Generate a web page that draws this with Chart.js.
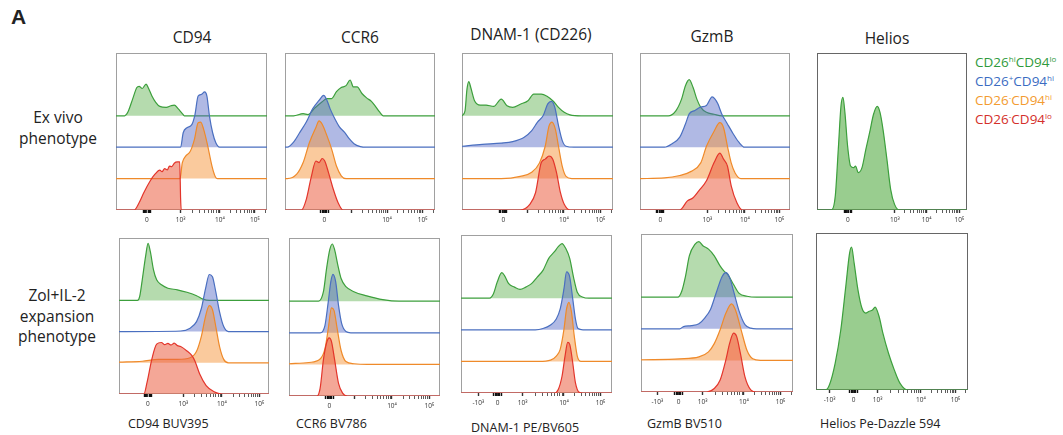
<!DOCTYPE html>
<html lang="en">
<head>
<meta charset="UTF-8">
<title>CD26/CD94 subsets - histograms</title>
<script src="https://cdn.jsdelivr.net/npm/chart.js"></script>
<style>
  body { margin: 0; background: #fff; width: 1063px; height: 435px; position: relative; overflow: hidden; font-family: "Open Sans", sans-serif; color: #222; }
  .txt { position: absolute; white-space: nowrap; }
  .panel { position: absolute; }
  .colTitle { font-size: 15.5px; transform: translate(-50%, -50%); }
  .rowTitle { font-size: 15.5px; line-height: 20.5px; text-align: center; transform: translateX(-50%); }
  .axisTitle { font-size: 12.5px; transform: translateY(-50%); }
  .legend div { font-size: 13.5px; line-height: 19px; }
  .legend sup { font-size: 8px; vertical-align: 5px; line-height: 0; }
</style>
</head>
<body>
<div class="txt" style="left:11px;top:5px;font:bold 21px 'Liberation Sans',Arial,sans-serif;">A</div>

<div class="txt colTitle" style="left:192px;top:37px;">CD94</div>
<div class="txt colTitle" style="left:360px;top:37px;">CCR6</div>
<div class="txt colTitle" style="left:531px;top:34px;">DNAM-1 (CD226)</div>
<div class="txt colTitle" style="left:712px;top:36px;">GzmB</div>
<div class="txt colTitle" style="left:887px;top:38px;">Helios</div>

<div class="txt rowTitle" style="left:58px;top:107px;">Ex vivo<br>phenotype</div>
<div class="txt rowTitle" style="left:57px;top:285px;">Zol+IL-2<br>expansion<br>phenotype</div>

<div class="txt axisTitle" style="left:128px;top:423px;">CD94 BUV395</div>
<div class="txt axisTitle" style="left:296px;top:423px;">CCR6 BV786</div>
<div class="txt axisTitle" style="left:471px;top:427px;">DNAM-1 PE/BV605</div>
<div class="txt axisTitle" style="left:647px;top:423px;">GzmB BV510</div>
<div class="txt axisTitle" style="left:820px;top:423px;">Helios Pe-Dazzle 594</div>

<div class="txt legend" style="left:975px;top:53px;">
  <div style="color:#2f9a3c">CD26<sup>hi</sup>CD94<sup>lo</sup></div>
  <div style="color:#3b6cc2">CD26<sup>+</sup>CD94<sup>hi</sup></div>
  <div style="color:#f39b30">CD26<sup>-</sup>CD94<sup>hi</sup></div>
  <div style="color:#d42f2a">CD26<sup>-</sup>CD94<sup>lo</sup></div>
</div>

<div id="panels"></div>

<script>
// populations, bottom to top in every stacked panel
const populations = ['CD26-CD94lo', 'CD26-CD94hi', 'CD26+CD94hi', 'CD26hiCD94lo'];
const lineColors = ['#e3352b', '#ef8a2a', '#4a6fc0', '#3c9f3c'];
const fillColors = ['rgba(235,95,65,0.55)', 'rgba(245,150,60,0.5)', 'rgba(80,100,195,0.45)', 'rgba(90,175,75,0.45)'];
const markers = ['CD94', 'CCR6', 'DNAM-1 (CD226)', 'GzmB', 'Helios'];

// x is position along the (biexponential) axis in % of panel width, y is density above the baseline

// --- Ex vivo ---
const exCD94Red = [[0,0],[12.1,0],[15.3,0.23],[18.4,0.55],[22.7,0.93],[25.8,1.14],[29.0,1.27],[30.5,1.22],[32.2,1.32],[34.0,1.28],[35.4,1.40],[37.0,1.38],[38.6,1.49],[40.7,1.53],[42.2,1.53],[42.8,0.34],[43.2,0],[100,0]];
const exCD94Orange = [[0,0],[42.4,0],[43.9,0.5],[46.0,0.71],[49.2,0.87],[51.9,1.24],[54.4,1.78],[56.1,1.80],[58.1,1.56],[60.8,1.03],[63.6,0.39],[65.7,0.07],[67.2,0],[100,0]];
const exCD94Blue = [[0,0],[42.8,0],[44.5,0.46],[47.0,0.62],[50.2,0.72],[52.3,1.04],[54.4,1.63],[56.6,1.68],[58.7,1.76],[60.2,1.63],[61.9,0.99],[64.0,0.46],[66.1,0.14],[68.6,0],[100,0]];
const exCD94Green = [[0,0],[5.7,0],[7.8,0.11],[11.0,0.53],[13.8,0.90],[15.3,0.94],[17.4,0.87],[19.9,1.01],[21.6,0.87],[23.7,0.64],[26.3,0.43],[29.0,0.30],[33.3,0.27],[36.4,0.32],[38.6,0.34],[41.1,0.23],[43.9,0.07],[45.3,0],[100,0]];

const exCCR6Red = [[0,0],[11.0,0],[14.2,0.34],[17.4,1.03],[20.6,1.56],[22.7,1.51],[24.8,1.64],[26.5,1.56],[29.0,1.19],[32.2,0.66],[35.4,0.23],[38.6,0],[100,0]];
const exCCR6Orange = [[0,0],[1.5,0],[7.8,0.14],[12.1,0.51],[16.3,1.15],[20.6,1.63],[22.7,1.84],[24.8,1.73],[28.0,1.36],[31.1,0.94],[34.3,0.40],[37.5,0.09],[40.7,0],[100,0]];
const exCCR6Blue = [[0,0],[1.5,0],[5.7,0.16],[10.0,0.48],[14.2,0.80],[18.4,1.22],[22.7,1.49],[25.8,1.65],[28.0,1.49],[30.1,1.22],[33.3,0.90],[36.4,0.64],[39.6,0.48],[42.8,0.27],[46.0,0.11],[50.2,0.02],[54.4,0],[100,0]];
const exCCR6Green = [[0,0],[5.7,0],[12.1,0.07],[15.3,0.04],[19.5,0.23],[24.8,0.45],[28.0,0.55],[31.1,0.55],[34.3,0.77],[37.5,0.90],[40.7,0.96],[43.4,1.14],[45.6,0.92],[48.1,0.92],[51.3,0.71],[54.4,0.57],[57.6,0.46],[59.7,0.34],[62.9,0.13],[65.5,0],[100,0]];

const exDNAMRed = [[0,0],[38.6,0],[44.9,0.18],[48.7,0.55],[52.5,1.51],[55.1,1.62],[57.6,1.72],[60.1,1.62],[62.6,1.19],[65.2,0.55],[67.7,0.18],[71.5,0],[100,0]];
const exDNAMOrange = [[0,0],[26.0,0],[38.6,0.07],[46.2,0.20],[51.3,0.50],[55.1,1.03],[57.6,1.67],[59.6,1.80],[61.9,1.56],[63.9,1.03],[66.4,0.39],[68.9,0.07],[72.7,0],[100,0]];
const exDNAMBlue = [[0,0.03],[13.4,0.09],[26.0,0.13],[33.6,0.18],[41.2,0.32],[46.2,0.53],[50.0,0.80],[53.8,1.01],[56.8,1.38],[59.3,1.46],[61.4,1.28],[63.9,0.69],[66.4,0.21],[68.9,0.03],[74.0,0],[100,0]];
const exDNAMGreen = [[0,0],[2.0,0.16],[3.3,0.85],[4.5,1.09],[5.8,0.90],[8.3,0.48],[12.1,0.34],[15.9,0.34],[21.0,0.30],[26.0,0.53],[29.8,0.32],[33.6,0.27],[38.6,0.37],[43.7,0.48],[47.5,0.69],[52.5,0.69],[56.3,0.62],[60.1,0.48],[63.9,0.27],[67.7,0.11],[71.5,0.03],[79.0,0],[100,0]];

const exGzmBRed = [[0,0],[26.5,0],[31.6,0.29],[35.4,0.39],[39.2,0.61],[44.3,0.93],[49.4,1.51],[53.2,1.81],[55.7,1.62],[58.3,1.40],[60.8,0.77],[64.6,0.23],[68.4,0],[100,0]];
const exGzmBOrange = [[0,0],[16.3,0.02],[26.5,0.10],[34.1,0.23],[40.5,0.50],[44.3,1.03],[49.4,1.51],[53.2,1.78],[55.7,1.62],[58.3,1.03],[60.8,0.50],[63.4,0.18],[67.2,0],[100,0]];
const exGzmBBlue = [[0,0],[16.3,0],[21.4,0.11],[26.5,0.32],[30.3,0.74],[32.8,1.06],[36.6,1.17],[40.5,1.28],[44.3,1.33],[48.1,1.60],[49.9,1.54],[51.9,1.38],[54.5,1.06],[58.3,0.74],[62.1,0.43],[65.9,0.16],[69.7,0],[100,0]];
const exGzmBGreen = [[0,0],[18.8,0],[23.9,0.16],[27.7,0.53],[30.3,0.96],[32.8,1.15],[35.4,0.90],[37.9,0.53],[40.5,0.27],[44.3,0.11],[49.4,0.05],[54.5,0],[100,0]];

const exHelios = [[0,0],[9.7,0],[12.2,0.45],[14.2,1.94],[16.0,3.32],[17.3,3.59],[18.6,3.11],[20.4,2.04],[22.4,1.40],[24.4,1.35],[25.7,1.40],[27.5,1.19],[30.0,1.35],[32.6,1.94],[35.1,2.47],[37.7,3.05],[40.2,3.30],[42.0,3.11],[44.0,2.57],[46.6,1.62],[49.1,0.66],[51.7,0.18],[55.0,0],[100,0]];

// --- Zol+IL-2 expansion ---
const zlCD94Red = [[0,0],[16.6,0],[18.7,0.37],[21.9,1.12],[25.1,1.60],[28.3,1.65],[30.5,1.58],[32.6,1.62],[34.7,1.57],[36.8,1.63],[39.0,1.55],[41.1,1.52],[45.3,1.38],[48.5,1.24],[50.6,1.06],[53.8,0.64],[58.1,0.27],[63.4,0.07],[68.7,0],[100,0]];
const zlCD94Orange = [[0,0.02],[15.5,0.05],[26.2,0.11],[38.9,0.11],[47.4,0.16],[51.7,0.37],[54.9,0.85],[57.7,1.49],[60.2,1.83],[62.3,1.70],[64.5,1.17],[67.0,0.53],[69.8,0.11],[73.0,0],[100,0]];
const zlCD94Blue = [[0,0],[41.1,0.02],[47.4,0.11],[51.7,0.32],[54.9,0.74],[57.7,1.38],[60.2,1.83],[62.3,1.76],[64.5,1.28],[67.0,0.64],[69.8,0.16],[73.0,0],[100,0]];
const zlCD94Green = [[0,0],[12.3,0],[13.8,0.13],[15.5,0.66],[17.7,1.40],[19.4,1.83],[20.9,1.56],[23.0,0.98],[25.1,0.66],[28.3,0.50],[32.6,0.39],[38.9,0.34],[45.3,0.26],[51.7,0.15],[56.0,0.04],[60.2,0],[100,0]];

const zlCCR6Red = [[0,0],[18.5,0],[20.6,0.24],[22.8,1.15],[24.9,1.68],[26.6,1.84],[28.1,1.73],[30.2,1.15],[32.8,0.40],[35.5,0.09],[38.7,0],[100,0]];
const zlCCR6Orange = [[0,0.02],[13.2,0.06],[20.6,0.17],[23.8,0.49],[26.0,1.13],[28.1,1.79],[29.8,1.71],[31.9,1.13],[34.5,0.44],[37.7,0.09],[43.0,0.02],[51.5,0],[100,0]];
const zlCCR6Blue = [[0,0],[20.6,0],[23.8,0.23],[26.0,0.98],[27.7,1.62],[29.1,1.85],[30.9,1.62],[32.8,0.87],[34.9,0.29],[37.7,0.04],[40.9,0],[100,0]];
const zlCCR6Green = [[0,0],[19.6,0],[22.8,0.30],[24.9,1.04],[27.0,1.63],[28.7,1.81],[30.2,1.63],[32.3,1.15],[34.5,0.72],[37.7,0.46],[43.0,0.30],[51.5,0.17],[62.1,0.05],[72.8,0],[100,0]];

const zlDNAMRed = [[0,0],[61.9,0],[64.4,0.11],[66.9,0.53],[68.9,1.17],[70.7,1.60],[72.0,1.54],[73.7,1.06],[75.8,0.32],[78.3,0.02],[80.8,0],[100,0]];
const zlDNAMOrange = [[0,0],[51.8,0],[59.3,0.04],[63.1,0.17],[65.7,0.38],[68.2,1.02],[69.9,1.66],[71.5,1.87],[73.2,1.55],[75.0,0.81],[77.0,0.17],[79.5,0],[100,0]];
const zlDNAMBlue = [[0,0],[49.2,0],[54.3,0.04],[59.3,0.15],[63.1,0.34],[65.7,0.66],[68.2,1.30],[69.9,1.83],[72.0,1.67],[74.0,0.98],[75.8,0.34],[77.5,0.04],[80.8,0],[100,0]];
const zlDNAMGreen = [[0,0],[18.9,0],[21.5,0.14],[24.0,0.51],[27.0,0.81],[29.0,0.70],[31.6,0.46],[35.4,0.35],[39.1,0.28],[42.9,0.35],[46.7,0.46],[50.5,0.67],[54.3,0.88],[58.1,1.26],[61.9,1.47],[64.4,1.63],[66.9,1.73],[69.4,1.57],[72.0,1.26],[74.5,0.67],[77.0,0.19],[80.8,0.03],[84.6,0],[100,0]];

const zlGzmBRed = [[0,0],[43.2,0],[48.2,0.11],[52.0,0.37],[55.8,1.01],[58.3,1.54],[60.9,1.86],[62.9,1.76],[65.4,1.22],[68.4,0.48],[72.2,0.07],[76.0,0],[100,0]];
const zlGzmBOrange = [[0,0.02],[25.5,0.05],[38.1,0.11],[44.4,0.27],[48.2,0.53],[52.0,0.96],[55.8,1.49],[59.6,1.79],[62.1,1.60],[65.9,0.96],[69.7,0.32],[73.5,0.05],[78.5,0],[100,0]];
const zlGzmBBlue = [[0,0],[25.5,0],[28.0,0.07],[33.1,0.10],[38.1,0.16],[41.9,0.34],[45.7,0.61],[49.5,1.14],[53.3,1.65],[55.8,1.78],[58.3,1.62],[60.9,1.19],[64.6,0.55],[68.4,0.13],[72.2,0.02],[76.0,0],[100,0]];
const zlGzmBGreen = [[0,0],[24.2,0],[26.8,0.19],[29.3,0.67],[31.8,1.31],[35.6,1.68],[38.1,1.76],[40.7,1.63],[44.4,1.52],[48.2,1.31],[52.0,0.99],[54.5,0.83],[57.1,0.72],[60.9,0.40],[64.6,0.12],[69.7,0.03],[76.0,0],[100,0]];

const zlHelios = [[0,0],[6.3,0],[8.8,0.16],[12.6,0.85],[16.3,1.91],[19.6,3.30],[22.1,4.36],[23.4,4.55],[25.1,4.04],[27.6,3.19],[30.2,2.61],[32.7,2.45],[34.7,2.50],[37.2,2.55],[38.9,2.64],[41.5,2.34],[44.0,1.81],[47.7,1.17],[51.5,0.64],[55.3,0.21],[60.3,0],[100,0]];

// tick positions (% of width) and labels
const exCD94Ticks = [20.5, 42.8, 68.8, 92], exCD94Labels = ['0', '10³', '10⁴', '10⁵'];
const exCCR6Ticks = [26.3, 68, 91.7], exCCR6Labels = ['0', '10⁴', '10⁵'];
const exDNAMTicks = [27.4, 67.5, 91.7], exDNAMLabels = ['0', '10⁴', '10⁵'];
const exGzmBTicks = [13.5, 44.9, 69.9, 92.9], exGzmBLabels = ['0', '10³', '10⁴', '10⁵'];
const exHeliosTicks = [20.5, 51.9, 73.1, 94.9], exHeliosLabels = ['0', '10³', '10⁴', '10⁵'];
const zlCD94Ticks = [19.2, 42.9, 68.6, 93.6], zlCD94Labels = ['0', '10³', '10⁴', '10⁵'];
const zlCCR6Ticks = [26.8, 68.2, 93], zlCCR6Labels = ['0', '10⁴', '10⁵'];
const zlDNAMTicks = [11.5, 24.2, 40.8, 68.2, 92.4], zlDNAMLabels = ['-10³', '0', '10³', '10⁴', '10⁵'];
const zlGzmBTicks = [10.8, 24.7, 40.5, 67.7, 91.8], zlGzmBLabels = ['-10³', '0', '10³', '10⁴', '10⁵'];
const zlHeliosTicks = [8.9, 24.7, 40.5, 69.0, 91.8], zlHeliosLabels = ['-10³', '0', '10³', '10⁴', '10⁵'];

// left, top, width, height of each plot box
const panels = [
  { box: [113, 53, 157, 157], series: [exCD94Red, exCD94Orange, exCD94Blue, exCD94Green], ticks: exCD94Ticks, labels: exCD94Labels },
  { box: [282, 53, 156, 157], series: [exCCR6Red, exCCR6Orange, exCCR6Blue, exCCR6Green], ticks: exCCR6Ticks, labels: exCCR6Labels },
  { box: [459, 53, 157, 157], series: [exDNAMRed, exDNAMOrange, exDNAMBlue, exDNAMGreen], ticks: exDNAMTicks, labels: exDNAMLabels },
  { box: [637, 53, 156, 157], series: [exGzmBRed, exGzmBOrange, exGzmBBlue, exGzmBGreen], ticks: exGzmBTicks, labels: exGzmBLabels },
  { box: [814, 53, 156, 157], helios: exHelios, ticks: exHeliosTicks, labels: exHeliosLabels },
  { box: [116, 238, 156, 156], series: [zlCD94Red, zlCD94Orange, zlCD94Blue, zlCD94Green], ticks: zlCD94Ticks, labels: zlCD94Labels },
  { box: [286, 238, 157, 158], series: [zlCCR6Red, zlCCR6Orange, zlCCR6Blue, zlCCR6Green], ticks: zlCCR6Ticks, labels: zlCCR6Labels },
  { box: [458, 235, 157, 158], series: [zlDNAMRed, zlDNAMOrange, zlDNAMBlue, zlDNAMGreen], ticks: zlDNAMTicks, labels: zlDNAMLabels },
  { box: [638, 234, 158, 158], series: [zlGzmBRed, zlGzmBOrange, zlGzmBBlue, zlGzmBGreen], ticks: zlGzmBTicks, labels: zlGzmBLabels },
  { box: [813, 233, 158, 157], helios: zlHelios, ticks: zlHeliosTicks, labels: zlHeliosLabels }
];

const SUP = '⁰¹²³⁴⁵';
const zeroRug = [-2.4, -1.6, -0.8, 0.8, 1.6, 2.4];

// major ticks as given, plus log minor ticks between decades and a dense rug at 0
function buildTicks(major, labels) {
  const out = [{ value: 0, lbl: '', kind: 'edge' }, { value: 100, lbl: '', kind: 'edge' }];
  const dec = {};
  major.forEach((v, i) => {
    out.push({ value: v, lbl: labels[i], kind: 'major' });
    if (labels[i] === '0') zeroRug.forEach(d => out.push({ value: v + d, lbl: '', kind: 'rug' }));
    const m = labels[i].match(/^10(.)$/);
    if (m) dec[SUP.indexOf(m[1])] = v;
  });
  if (dec[3] === undefined) {
    dec[3] = dec[4] - (dec[5] - dec[4]);
    out.push({ value: dec[3], lbl: '', kind: 'major' });
  }
  dec[6] = dec[5] + (dec[5] - dec[4]);
  for (let e = 3; e < 6; e++) {
    for (let k = 2; k <= 9; k++) {
      const v = dec[e] + (dec[e + 1] - dec[e]) * Math.log10(k);
      if (v < 99.5) out.push({ value: v, lbl: '', kind: 'minor' });
    }
  }
  return out.sort((a, b) => a.value - b.value);
}

const framePlugin = {
  id: 'frame',
  beforeDatasetsDraw(chart, args, opts) {
    const { ctx, chartArea: a } = chart;
    ctx.save();
    ctx.strokeStyle = opts.color;
    ctx.lineWidth = 1;
    ctx.strokeRect(a.left + 0.5, a.top + 0.5, a.right - a.left - 1, a.bottom - a.top - 1);
    ctx.restore();
  }
};

const holder = document.getElementById('panels');

panels.forEach(p => {
  const [left, top, w, h] = p.box;
  const div = document.createElement('div');
  div.className = 'panel';
  div.style.cssText = `left:${left}px;top:${top}px;width:${w}px;height:${h + 15}px;`;
  const canvas = document.createElement('canvas');
  div.appendChild(canvas);
  holder.appendChild(div);

  let datasets;
  if (p.helios) {
    datasets = [{
      data: p.helios.map(([x, y]) => ({ x, y })),
      borderColor: '#3c9f3c', backgroundColor: 'rgba(90,175,75,0.62)',
      fill: { value: 0 }
    }];
  } else {
    // red first so it is drawn on top, green last
    datasets = p.series.map((s, i) => ({
      label: populations[i],
      data: s.map(([x, y]) => ({ x, y: i + y })),
      borderColor: lineColors[i], backgroundColor: fillColors[i],
      fill: { value: i }
    }));
  }
  datasets.forEach(d => Object.assign(d, { borderWidth: 1.2, pointRadius: 0, cubicInterpolationMode: 'monotone' }));

  const tickList = buildTicks(p.ticks, p.labels);

  new Chart(canvas, {
    type: 'line',
    data: { datasets },
    plugins: [framePlugin],
    options: {
      responsive: true,
      maintainAspectRatio: false,
      animation: false,
      devicePixelRatio: 1,
      layout: { padding: 0 },
      plugins: {
        legend: { display: false },
        tooltip: { enabled: false },
        frame: { color: p.helios ? '#666' : '#a0a0a0' }
      },
      scales: {
        x: {
          type: 'linear', min: 0, max: 100,
          afterBuildTicks: s => { s.ticks = tickList.map(t => ({ value: t.value, lbl: t.lbl, kind: t.kind })); },
          afterFit: s => { s.height = 15; },
          ticks: {
            autoSkip: false, maxRotation: 0, minRotation: 0, padding: 3,
            font: { family: 'Open Sans', size: 6.5 }, color: '#333',
            callback: (v, i, ts) => ts[i].lbl
          },
          grid: {
            drawOnChartArea: false, drawTicks: true, tickLength: 3,
            tickColor: c => c.tick && c.tick.kind === 'edge' ? 'rgba(0,0,0,0)' : (c.tick && c.tick.kind === 'rug' ? '#111' : '#333'),
            tickWidth: c => c.tick && (c.tick.kind === 'major' || c.tick.kind === 'rug') ? 1.4 : 0.8
          },
          border: { display: false }
        },
        y: { display: false, min: 0, max: 5.0 }
      }
    }
  });
});
</script>
</body>
</html>
